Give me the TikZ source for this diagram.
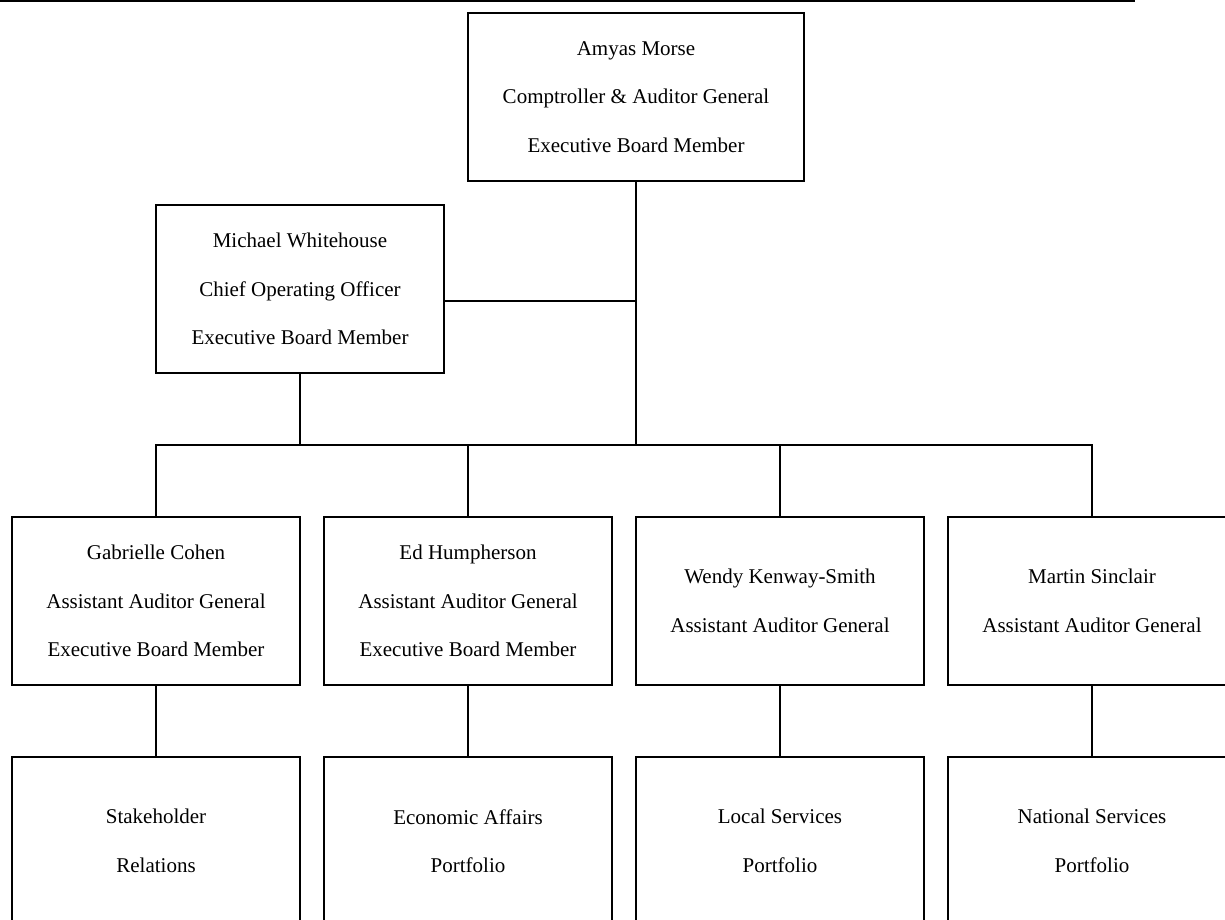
\documentclass[tikz,border=0pt]{standalone}
\usepackage{fontspec}
\setmainfont{Liberation Serif}
\begin{document}
\begin{tikzpicture}[x=1pt,y=1pt,
  orgbox/.style={draw=black, line width=1.6pt, rectangle, minimum width=288pt, minimum height=168pt, inner sep=0pt, align=center, font=\fontsize{21}{48.5}\selectfont},
  conn/.style={draw=black, line width=1.6pt}]
\useasboundingbox (0,0) rectangle (1225,-920);
\clip (0,0) rectangle (1225,-920);
\draw[line width=2pt] (0,-0.8) -- (1135,-0.8);
\node[orgbox, minimum width=336pt] (top) at (636,-97) {Amyas Morse\\Comptroller \& Auditor General\\Executive Board Member};
\node[orgbox] (coo) at (300,-289) {Michael Whitehouse\\Chief Operating Officer\\Executive Board Member};
\node[orgbox] (gc) at (156,-601) {Gabrielle Cohen\\Assistant Auditor General\\Executive Board Member};
\node[orgbox] (eh) at (468,-601) {Ed Humpherson\\Assistant Auditor General\\Executive Board Member};
\node[orgbox] (wk) at (780,-601) {Wendy Kenway-Smith\\Assistant Auditor General};
\node[orgbox] (ms) at (1092,-601) {Martin Sinclair\\Assistant Auditor General};
\node[orgbox] (sr) at (156,-841) {Stakeholder\\Relations};
\node[orgbox] (ea) at (468,-841) {Economic Affairs\\Portfolio};
\node[orgbox] (ls) at (780,-841) {Local Services\\Portfolio};
\node[orgbox] (ns) at (1092,-841) {National Services\\Portfolio};
\coordinate (bus) at (636,-445);
\coordinate (mid) at (636,-301);
\draw[conn] (top.south) -- (bus);
\draw[conn] (coo.east |- mid) -- (mid);
\draw[conn] (coo.south) -- (coo.south |- bus);
\draw[conn] (gc.north) -- (gc.north |- bus) -- (ms.north |- bus) -- (ms.north);
\draw[conn] (eh.north) -- (eh.north |- bus);
\draw[conn] (wk.north) -- (wk.north |- bus);
\draw[conn] (gc.south) -- (sr.north);
\draw[conn] (eh.south) -- (ea.north);
\draw[conn] (wk.south) -- (ls.north);
\draw[conn] (ms.south) -- (ns.north);
\end{tikzpicture}
\end{document}
